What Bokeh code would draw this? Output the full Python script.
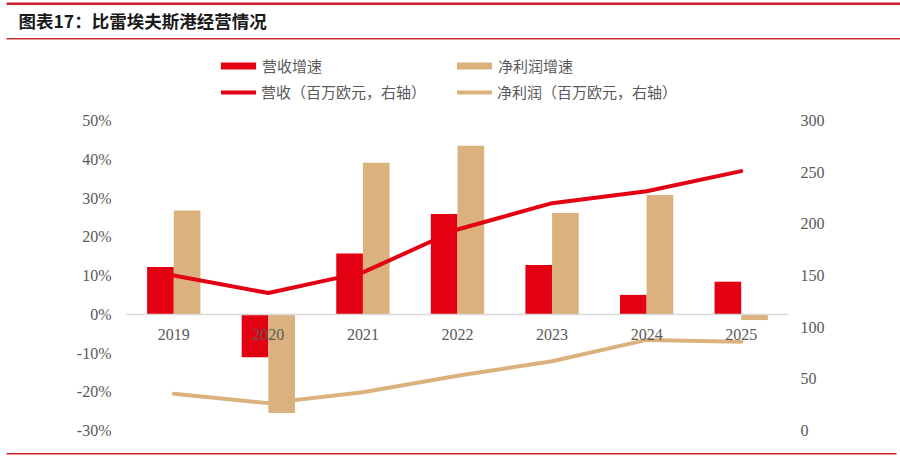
from bokeh.plotting import figure
from bokeh.models import (ColumnDataSource, Range1d, LinearAxis, FixedTicker,
                          NumeralTickFormatter, Legend, LegendItem, Label, BoxAnnotation)
from bokeh.transform import dodge
from bokeh.embed import file_html
from bokeh.resources import INLINE

# ---------------- data ----------------
years = ["2019", "2020", "2021", "2022", "2023", "2024", "2025"]
revenue_growth = [0.122, -0.111, 0.157, 0.259, 0.127, 0.050, 0.084]
profit_growth = [0.268, -0.255, 0.391, 0.435, 0.261, 0.308, -0.015]
revenue = [150, 133, 153, 194.5, 220, 231.5, 251]
net_profit = [35.5, 26.5, 37, 53, 67, 87.7, 86]

left_ticks = [-0.3, -0.2, -0.1, 0.0, 0.1, 0.2, 0.3, 0.4, 0.5]
right_ticks = [0, 50, 100, 150, 200, 250, 300]

title_text = "图表17：比雷埃夫斯港经营情况"
leg_rev_growth = "营收增速"
leg_np_growth = "净利润增速"
leg_rev = "营收（百万欧元，右轴）"
leg_np = "净利润（百万欧元，右轴）"

RED = "#E30013"
TAN = "#DBB27D"
GRAY = "#595959"
CJK = "Noto Sans CJK SC"
SERIF = "Liberation Serif"

# ---------------- geometry (canvas pixels) ----------------
W, H = 900, 466
PL, PR, PT, PB = 126, 788, 120, 430          # plot area: 50% / 300 at PT, -30% / 0 at PB
n = len(years)
xi = list(range(n))
cat_w = (PR - PL) / n
x_lo = -0.5 - PL / cat_w
x_hi = -0.5 + (W - PL) / cat_w
left_lo, left_hi = left_ticks[0], left_ticks[-1]
ppu_l = (PB - PT) / (left_hi - left_lo)
right_lo, right_hi = right_ticks[0], right_ticks[-1]
ppu_r = (PB - PT) / (right_hi - right_lo)

src = ColumnDataSource(dict(x=xi, year=years, rg=revenue_growth, pg=profit_growth,
                            rev=revenue, np=net_profit))

p = figure(width=W, height=H,
           x_range=Range1d(x_lo, x_hi),
           y_range=Range1d(left_lo - (H - PB) / ppu_l, left_lo + PB / ppu_l),
           toolbar_location=None, output_backend="svg", min_border=0,
           outline_line_color=None, x_axis_location=None, y_axis_location=None)
p.grid.visible = False
p.extra_y_ranges = {"right": Range1d(right_lo - (H - PB) / ppu_r, right_lo + PB / ppu_r)}

bw = 0.282
r1 = p.vbar(x=dodge("x", -bw / 2), top="rg", width=bw, source=src,
            fill_color=RED, line_color=None)
r2 = p.vbar(x=dodge("x", bw / 2), top="pg", width=bw, source=src,
            fill_color=TAN, line_color=None)
r3 = p.line(x="x", y="rev", source=src, y_range_name="right", line_color=RED,
            line_width=4, line_join="round", line_cap="round")
r4 = p.line(x="x", y="np", source=src, y_range_name="right", line_color=TAN,
            line_width=4, line_join="round", line_cap="round")

# category axis on the zero line
xa = LinearAxis(ticker=FixedTicker(ticks=xi), fixed_location=0,
                major_label_overrides={i: y for i, y in zip(xi, years)},
                bounds=(-0.5, n - 0.5))
xa.axis_line_color = "#D9D9D9"
xa.axis_line_width = 1.5
xa.major_tick_line_color = None
xa.minor_tick_line_color = None
xa.major_label_standoff = 9
xa.major_label_text_font = SERIF
xa.major_label_text_font_size = "16px"
xa.major_label_text_color = GRAY
p.add_layout(xa, "below")

yl = LinearAxis(ticker=FixedTicker(ticks=left_ticks),
                formatter=NumeralTickFormatter(format="0%"), fixed_location=-0.5)
yl.major_label_standoff = 9
yr = LinearAxis(y_range_name="right", ticker=FixedTicker(ticks=right_ticks),
                fixed_location=n - 0.5)
yr.major_label_standoff = 6
for ax in (yl, yr):
    ax.axis_line_color = None
    ax.major_tick_line_color = None
    ax.minor_tick_line_color = None
    ax.major_label_text_font = SERIF
    ax.major_label_text_font_size = "16px"
    ax.major_label_text_color = GRAY
p.add_layout(yl, "left")
p.add_layout(yr, "right")

leg1 = Legend(items=[LegendItem(label=leg_rev_growth, renderers=[r1]),
                     LegendItem(label=leg_np_growth, renderers=[r2])],
              orientation="horizontal", location=(216, 390), glyph_width=44, glyph_height=9,
              label_standoff=2, label_width=190, spacing=0, padding=0, margin=0,
              border_line_color=None, background_fill_alpha=0,
              label_text_font=CJK, label_text_font_size="15px", label_text_color=GRAY,
              label_height=16)
leg2 = Legend(items=[LegendItem(label=leg_rev, renderers=[r3]),
                     LegendItem(label=leg_np, renderers=[r4])],
              orientation="horizontal", location=(221, 364), glyph_width=35, glyph_height=16,
              label_standoff=5, label_width=196, spacing=0, padding=0, margin=0,
              border_line_color=None, background_fill_alpha=0,
              label_text_font=CJK, label_text_font_size="15px", label_text_color=GRAY,
              label_height=16)
p.add_layout(leg1)
p.add_layout(leg2)

# ---------------- title and rules ----------------
def hline(y_top, y_bot, x0, x1, color):
    return BoxAnnotation(left=x0, right=x1, top=H - y_top, bottom=H - y_bot,
                         left_units="screen", right_units="screen",
                         top_units="screen", bottom_units="screen",
                         fill_color=color, fill_alpha=1, line_color=None)

p.add_layout(hline(2, 4.5, 6, 900, "#D0202A"))
p.add_layout(hline(37.5, 39, 6, 900, "#C9302C"))
p.add_layout(hline(452.5, 454, 6, 896, "#D0202A"))
p.add_layout(Label(x=18, y=H - 20, x_units="screen", y_units="screen",
                   text=title_text, text_font=CJK, text_font_style="bold",
                   text_font_size="17.5px", text_color="#1A1A1A", text_baseline="middle"))

open("out.html", "w").write(file_html(p, INLINE))
